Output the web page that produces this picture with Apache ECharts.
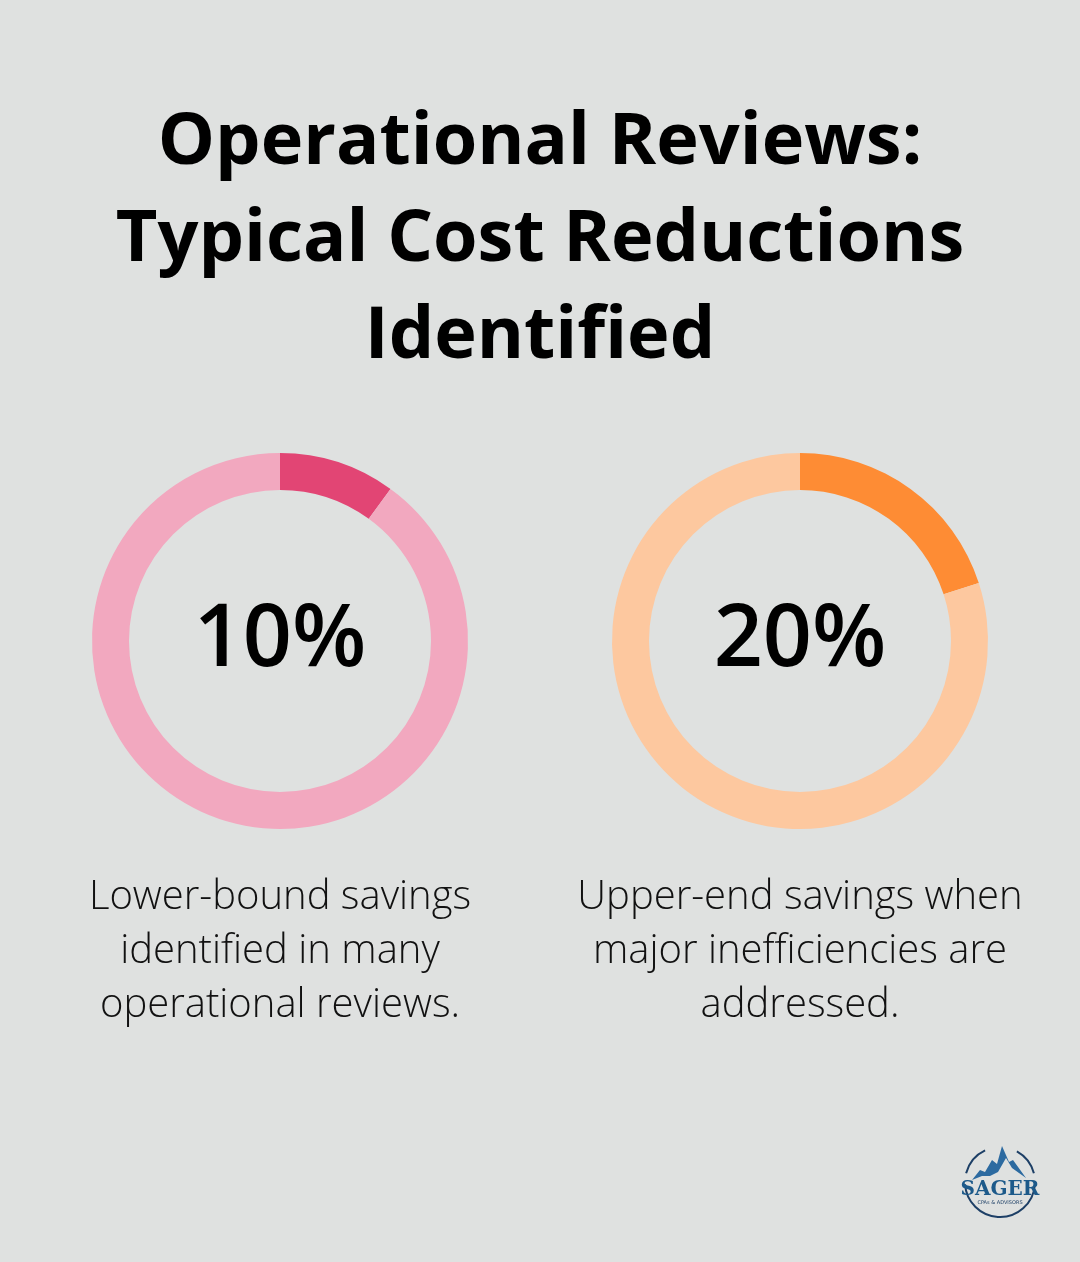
<!DOCTYPE html>
<html><head><meta charset="utf-8">
<script src="https://cdn.jsdelivr.net/npm/echarts@6/dist/echarts.min.js"></script>
<style>html,body{margin:0;padding:0;background:#dfe1e0;}#c{width:1080px;height:1262px;}</style>
</head><body><div id="c"></div>
<script>
const titleLines = ["Operational Reviews:", "Typical Cost Reductions", "Identified"];
const labels = ["10%", "20%"];
const values = [10, 20];
const descriptions = [
  ["Lower-bound savings", "identified in many", "operational reviews."],
  ["Upper-end savings when", "major inefficiencies are", "addressed."]
];
const mainColors = ["#e24574", "#fe8c34"];
const restColors = ["#f2a8bf", "#fdc89f"];
const centersX = [280, 800];

const chart = echarts.init(document.getElementById('c'), null, {renderer: 'canvas'});
const series = values.map((v, i) => ({
  type: 'pie',
  center: [centersX[i], 641],
  radius: [151, 188],
  startAngle: 90,
  clockwise: true,
  silent: true,
  label: {show: false},
  labelLine: {show: false},
  emphasis: {disabled: true},
  itemStyle: {borderWidth: 0},
  data: [
    {value: v, itemStyle: {color: mainColors[i]}},
    {value: 100 - v, itemStyle: {color: restColors[i]}}
  ]
}));

const graphics = [];
titleLines.forEach((t, k) => {
  graphics.push({type: 'text', left: 'center', top: 107 + k * 97,
    style: {text: t, font: 'bold 72px "Open Sans"', fill: '#000', textAlign: 'center'}});
});
labels.forEach((t, i) => {
  graphics.push({type: 'text', x: centersX[i], y: 641,
    style: {text: t, font: '600 86px "Open Sans"', fill: '#000', textAlign: 'center', textVerticalAlign: 'middle'}});
  descriptions[i].forEach((line, k) => {
    graphics.push({type: 'text', x: centersX[i], y: 898 + k * 54,
      style: {text: line, font: '300 40px "Open Sans"', fill: '#111', textAlign: 'center', textVerticalAlign: 'middle'}});
  });
});
// logo
graphics.push({type: 'group', x: 1000, y: 1182, children: [
  {type: 'arc', shape: {cx: 0, cy: 0, r: 35, startAngle: Math.PI * 0.02, endAngle: Math.PI * 0.98, clockwise: true},
    style: {stroke: '#1d3f66', lineWidth: 2, fill: null}},
  {type: 'arc', shape: {cx: 0, cy: 0, r: 35, startAngle: Math.PI * 1.08, endAngle: Math.PI * 1.36, clockwise: true},
    style: {stroke: '#1d3f66', lineWidth: 2, fill: null}},
  {type: 'arc', shape: {cx: 0, cy: 0, r: 35, startAngle: Math.PI * 1.66, endAngle: Math.PI * 1.92, clockwise: true},
    style: {stroke: '#1d3f66', lineWidth: 2, fill: null}},
  {type: 'polygon', shape: {points: [[-28,-2],[-20,-12],[-15,-10],[-8,-22],[-3,-18],[2,-36],[9,-20],[13,-22],[26,-4],[12,-14],[6,-24],[-2,-10],[-10,-6],[-18,-6]]},
    style: {fill: '#2c6aa0'}},
  {type: 'text', x: 0, y: 8, style: {text: 'SAGER', font: 'bold 20px "DejaVu Serif"', fill: '#1d5a8a', textAlign: 'center', textVerticalAlign: 'middle'}},
  {type: 'text', x: 0, y: 21, style: {text: 'CPAs & ADVISORS', font: '5px "DejaVu Sans"', fill: '#1d3f66', textAlign: 'center', textVerticalAlign: 'middle'}}
]});

chart.setOption({
  backgroundColor: '#dfe1e0',
  animation: false,
  series: series,
  graphic: graphics
});
</script></body></html>
